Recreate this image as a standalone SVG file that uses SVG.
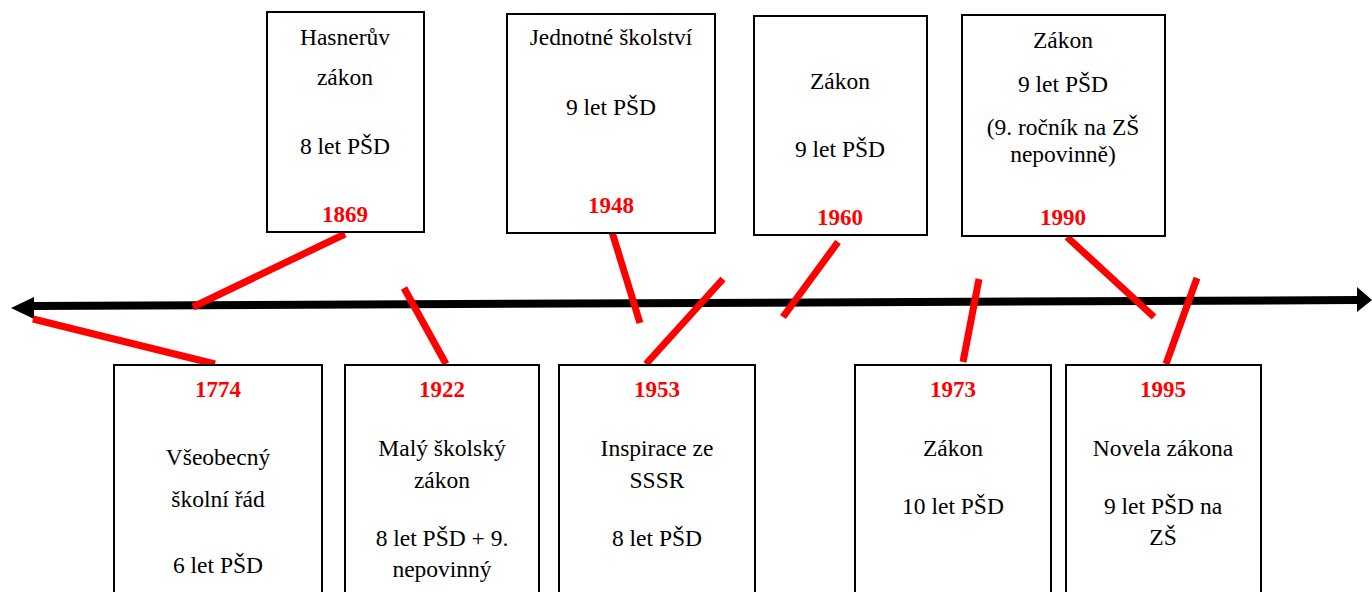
<svg xmlns="http://www.w3.org/2000/svg" width="1372" height="592" viewBox="0 0 1372 592">
<style>
.box{fill:#fff;stroke:#000;stroke-width:2}
.t{font-size:23.5px;fill:#000;text-anchor:middle}
.y{font-size:23px;font-weight:bold;fill:#ff0000;text-anchor:middle}
.r{stroke:#ff0000;stroke-width:7;fill:none}
</style>
<rect width="1372" height="592" fill="#fff"/>
<g id="connectors">
<line x1="33" y1="306" x2="1358" y2="300" stroke="#000" stroke-width="8"/>
<polygon points="11,308 34,297 34,319" fill="#000"/>
<polygon points="1372,300 1357,287 1357,312" fill="#000"/>
<line class="r" x1="33" y1="319" x2="215" y2="364"/>
<line class="r" x1="345" y1="234" x2="193" y2="307"/>
<line class="r" x1="404" y1="288" x2="446" y2="364"/>
<line class="r" x1="612" y1="232" x2="640" y2="323"/>
<line class="r" x1="723" y1="279" x2="646" y2="364"/>
<line class="r" x1="838" y1="242" x2="783" y2="317"/>
<line class="r" x1="979" y1="279" x2="963" y2="362"/>
<line class="r" x1="1067" y1="237" x2="1154" y2="317"/>
<line class="r" x1="1197" y1="278" x2="1166" y2="364"/>
</g>
<g font-family="Liberation Serif, Times New Roman, DejaVu Serif, serif">
<g id="n1869">
<rect class="box" x="267" y="12" width="157" height="220"/>
<text class="t" x="345" y="45">Hasnerův</text>
<text class="t" x="345" y="85">zákon</text>
<text class="t" x="345" y="154">8 let PŠD</text>
<text class="y" x="345" y="222">1869</text>
</g>
<g id="n1948">
<rect class="box" x="507" y="14" width="208" height="219"/>
<text class="t" x="611" y="45">Jednotné školství</text>
<text class="t" x="611" y="115">9 let PŠD</text>
<text class="y" x="611" y="213">1948</text>
</g>
<g id="n1960">
<rect class="box" x="754" y="16" width="173" height="219"/>
<text class="t" x="840" y="89">Zákon</text>
<text class="t" x="840" y="157">9 let PŠD</text>
<text class="y" x="840" y="225">1960</text>
</g>
<g id="n1990">
<rect class="box" x="962" y="15" width="203" height="221"/>
<text class="t" x="1063" y="48">Zákon</text>
<text class="t" x="1063" y="92">9 let PŠD</text>
<text class="t" x="1063" y="135">(9. ročník na ZŠ</text>
<text class="t" x="1063" y="162">nepovinně)</text>
<text class="y" x="1063" y="225">1990</text>
</g>
<g id="n1774">
<rect class="box" x="114" y="365" width="208" height="240"/>
<text class="y" x="218" y="397">1774</text>
<text class="t" x="218" y="465">Všeobecný</text>
<text class="t" x="218" y="507">školní řád</text>
<text class="t" x="218" y="573">6 let PŠD</text>
</g>
<g id="n1922">
<rect class="box" x="345" y="365" width="194" height="240"/>
<text class="y" x="442" y="397">1922</text>
<text class="t" x="442" y="456">Malý školský</text>
<text class="t" x="442" y="488">zákon</text>
<text class="t" x="442" y="546">8 let PŠD + 9.</text>
<text class="t" x="442" y="577">nepovinný</text>
</g>
<g id="n1953">
<rect class="box" x="559" y="365" width="196" height="240"/>
<text class="y" x="657" y="397">1953</text>
<text class="t" x="657" y="456">Inspirace ze</text>
<text class="t" x="657" y="488">SSSR</text>
<text class="t" x="657" y="546">8 let PŠD</text>
</g>
<g id="n1973">
<rect class="box" x="855" y="365" width="196" height="240"/>
<text class="y" x="953" y="397">1973</text>
<text class="t" x="953" y="456">Zákon</text>
<text class="t" x="953" y="514">10 let PŠD</text>
</g>
<g id="n1995">
<rect class="box" x="1066" y="365" width="195" height="240"/>
<text class="y" x="1163" y="397">1995</text>
<text class="t" x="1163" y="456">Novela zákona</text>
<text class="t" x="1163" y="514">9 let PŠD na</text>
<text class="t" x="1163" y="545">ZŠ</text>
</g>
</g>
</svg>
